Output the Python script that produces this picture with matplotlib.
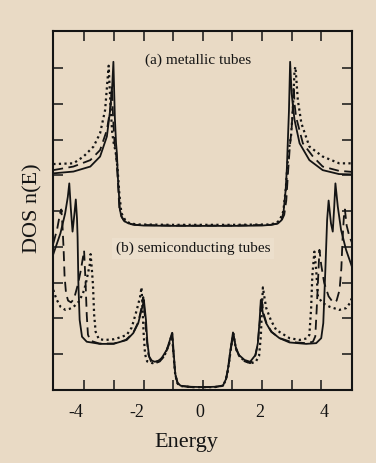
import matplotlib
matplotlib.use("Agg")
import matplotlib.pyplot as plt
from matplotlib.transforms import ScaledTranslation

plt.rcParams['font.family'] = ['Liberation Serif', 'DejaVu Serif']
plt.rcParams['axes.unicode_minus'] = False

# ---------------- data ----------------
# (a) metallic tubes
met_solid_E = [-5.05, -4.37, -3.8, -3.47, -3.24, -3.13, -3.06, -3.02, -2.97, -2.93, -2.9, -2.87,
               -2.8, -2.74, -2.68, -2.6, -2.51, -2.3, -2.0, -1.0, 0.0, 1.0, 2.0, 2.3, 2.54,
               2.66, 2.73, 2.8, 2.84, 2.87, 2.91, 2.95, 3.0, 3.05, 3.1, 3.27, 3.6, 4.05, 4.6, 5.05]
met_solid_dos = [6.06, 6.11, 6.25, 6.53, 7.09, 7.83, 8.5, 9.18, 7.6, 6.9, 6.6, 5.97,
                 5.03, 4.85, 4.76, 4.7, 4.66, 4.62, 4.6, 4.59, 4.59, 4.59, 4.6, 4.62, 4.66,
                 4.75, 5.0, 5.6, 6.2, 6.9, 7.8, 9.18, 8.3, 7.9, 7.55, 6.9, 6.43, 6.15, 6.04, 6.03]

met_dash_E = [-5.05, -4.37, -3.8, -3.47, -3.24, -3.13, -3.09, -3.07, -3.03, -2.98, -2.93, -2.88,
              -2.82, -2.75, -2.65, -2.5, -2.3, -1.0, 0.0, 1.0, 2.3, 2.5, 2.65, 2.75, 2.82, 2.88,
              2.94, 3.0, 3.04, 3.07, 3.1, 3.15, 3.38, 3.72, 4.05, 4.6, 5.05]
met_dash_dos = [6.15, 6.25, 6.43, 6.71, 7.27, 7.83, 8.2, 8.5, 7.6, 6.9, 6.6, 6.0,
                5.1, 4.85, 4.72, 4.65, 4.62, 4.6, 4.6, 4.6, 4.62, 4.65, 4.72, 4.9, 5.3, 6.1,
                6.8, 7.3, 7.9, 8.5, 8.0, 7.64, 6.9, 6.53, 6.25, 6.13, 6.1]

met_dot_E = [-5.05, -4.37, -4.03, -3.69, -3.47, -3.3, -3.21, -3.18, -3.12, -3.06, -3.0, -2.95,
             -2.88, -2.82, -2.75, -2.62, -2.46, -2.2, -1.0, 0.0, 1.0, 2.2, 2.46, 2.6, 2.72, 2.8,
             2.86, 2.92, 2.98, 3.04, 3.1, 3.13, 3.21, 3.33, 3.6, 4.05, 4.61, 5.05]
met_dot_dos = [6.32, 6.34, 6.53, 6.81, 7.18, 7.83, 8.76, 9.07, 8.0, 7.2, 6.85, 6.7,
               6.2, 5.5, 4.95, 4.75, 4.66, 4.63, 4.62, 4.62, 4.62, 4.63, 4.66, 4.75, 5.0, 5.6,
               6.3, 6.8, 7.1, 7.8, 8.95, 9.04, 8.11, 7.46, 6.81, 6.53, 6.34, 6.34]

# (b) semiconducting tubes
semi_solid_E = [-5.05, -4.81, -4.65, -4.56, -4.51, -4.46, -4.4, -4.34, -4.29, -4.25, -4.23, -4.2,
                -4.16, -4.08, -3.92, -3.47, -3.02, -2.57, -2.35, -2.18, -2.07, -2.02, -1.99,
                -1.95, -1.92, -1.87, -1.81, -1.72, -1.62, -1.5, -1.39, -1.22, -1.11, -1.03,
                -0.98, -0.93, -0.85, -0.75, -0.4, 0.0, 0.4, 0.68, 0.78, 0.85, 0.93, 1.02,
                1.11, 1.22, 1.41, 1.6, 1.78, 1.86, 1.92, 1.96, 2.03, 2.14, 2.31, 2.59, 2.93,
                3.49, 3.83, 4.0, 4.07, 4.14, 4.2, 4.25, 4.33, 4.39, 4.44, 4.48, 4.56, 4.67,
                4.84, 5.05]
semi_solid_dos = [3.8, 4.38, 4.94, 5.4, 5.78, 5.1, 4.43, 4.9, 5.33, 4.8, 4.29, 2.89,
                  1.96, 1.49, 1.35, 1.29, 1.29, 1.4, 1.59, 1.87, 2.24, 2.4, 2.52,
                  2.2, 1.96, 1.31, 0.93, 0.82, 0.79, 0.82, 0.89, 1.12, 1.4, 1.6,
                  1.0, 0.45, 0.2, 0.12, 0.09, 0.08, 0.09, 0.12, 0.3, 0.6, 1.1, 1.61,
                  1.21, 0.98, 0.84, 0.79, 0.98, 1.31, 1.96, 2.52, 2.15, 1.87, 1.63, 1.45, 1.33,
                  1.29, 1.31, 1.45, 1.87, 3.36, 4.76, 5.3, 4.66, 4.43, 5.13, 5.78, 5.13, 4.48,
                  3.92, 3.42]

semi_dash_E = [-5.05, -4.92, -4.82, -4.78, -4.74, -4.7, -4.67, -4.62, -4.55, -4.45, -4.35,
               -4.22, -4.12, -4.05, -4.01, -3.96, -3.92, -3.88, -3.8, -3.5, -3.0, -2.6,
               -2.35, -2.18, -2.07, -2.01, -1.96, -1.9, -1.84, -1.75, -1.6, -1.45, -1.3,
               -1.15, -1.04, -0.99, -0.93, -0.85, -0.75, -0.4, 0.0, 0.4, 0.68, 0.78, 0.86,
               0.94, 1.03, 1.12, 1.25, 1.42, 1.6, 1.76, 1.85, 1.92, 1.98, 2.05, 2.16, 2.33,
               2.6, 3.0, 3.5, 3.72, 3.8, 3.85, 3.9, 3.94, 4.0, 4.1, 4.25, 4.4, 4.52, 4.62,
               4.68, 4.72, 4.77, 4.8, 4.86, 4.95, 5.05]
semi_dash_dos = [4.1, 4.5, 4.95, 5.05, 4.6, 3.9, 3.2, 2.7, 2.5, 2.45, 2.55,
                 2.95, 3.35, 3.7, 3.9, 3.0, 2.1, 1.55, 1.38, 1.3, 1.3, 1.4,
                 1.6, 1.9, 2.3, 2.6, 2.1, 1.5, 1.0, 0.8, 0.75, 0.8, 0.95,
                 1.25, 1.58, 1.0, 0.42, 0.18, 0.11, 0.08, 0.08, 0.08, 0.12, 0.28, 0.6,
                 1.1, 1.58, 1.15, 0.92, 0.8, 0.75, 0.92, 1.25, 1.85, 2.6, 2.15, 1.85, 1.62,
                 1.45, 1.34, 1.31, 1.35, 1.5, 2.3, 3.2, 3.92, 3.5, 3.0, 2.62, 2.45, 2.5, 2.8,
                 3.4, 4.2, 4.9, 5.05, 4.6, 4.3, 4.1]

semi_dot_E = [-5.05, -4.95, -4.8, -4.64, -4.5, -4.36, -4.19, -4.05, -3.96, -3.87, -3.82,
              -3.79, -3.75, -3.71, -3.67, -3.62, -3.51, -3.3, -3.0, -2.8, -2.57, -2.4,
              -2.23, -2.12, -2.07, -2.04, -2.0, -1.95, -1.88, -1.7, -1.5, -1.3, -1.15,
              -1.04, -0.99, -0.93, -0.85, -0.75, -0.4, 0.0, 0.4, 0.68, 0.78, 0.86, 0.94,
              1.03, 1.12, 1.25, 1.45, 1.62, 1.78, 1.9, 1.96, 2.0, 2.03, 2.08, 2.14, 2.3,
              2.48, 2.93, 3.27, 3.5, 3.6, 3.66, 3.7, 3.77, 3.83, 3.89, 4.05, 4.28, 4.61,
              4.84, 4.97, 5.05]
semi_dot_dos = [2.8, 2.55, 2.32, 2.24, 2.27, 2.33, 2.47, 2.7, 2.94, 3.3, 3.5,
                3.8, 3.4, 2.94, 2.1, 1.63, 1.42, 1.4, 1.42, 1.47, 1.54, 1.75,
                2.24, 2.6, 2.87, 2.4, 1.6, 1.0, 0.8, 0.75, 0.8, 0.95, 1.25,
                1.58, 1.0, 0.42, 0.18, 0.11, 0.08, 0.08, 0.08, 0.12, 0.28, 0.6, 1.1,
                1.58, 1.15, 0.92, 0.8, 0.75, 0.78, 0.95, 1.5, 2.3, 2.87, 2.6, 2.3, 1.95,
                1.68, 1.45, 1.4, 1.44, 1.54, 2.3, 3.2, 3.87, 3.36, 2.61, 2.43, 2.33, 2.24,
                2.29, 2.43, 2.6]

tick_values = [-4, -2, 0, 2, 4]
tick_labels = ['-4', '-2', '0', '2', '4']

# ---------------- style / layout ----------------
bg = '#E9DAC5'
ink = '#141414'
dash_style = (0, (5.5, 3.0))
dot_style = (0, (1.0, 1.5))
label_shift_px = [-9, -7, -3, -2, 3]

fig = plt.figure(figsize=(3.76, 4.63), dpi=100, facecolor=bg)
ax = fig.add_axes([53.3 / 376, 1 - 390 / 463, (351.7 - 53.3) / 376, (390 - 30.7) / 463])
ax.set_facecolor(bg)

lw = 1.3
ax.plot(semi_dot_E, semi_dot_dos, color=ink, lw=1.6, linestyle=dot_style)
ax.plot(semi_dash_E, semi_dash_dos, color=ink, lw=lw, linestyle=dash_style)
ax.plot(semi_solid_E, semi_solid_dos, color=ink, lw=lw)
ax.plot(met_dot_E, met_dot_dos, color=ink, lw=1.6, linestyle=dot_style)
ax.plot(met_dash_E, met_dash_dos, color=ink, lw=lw, linestyle=dash_style)
ax.plot(met_solid_E, met_solid_dos, color=ink, lw=lw)

ax.set_xlim(-5.05, 5.03)
ax.set_ylim(0, 10.05)

ax.set_xticks(range(-5, 6), minor=False)
ax.set_xticks([])
ax.set_xticks(list(range(-4, 5)))
ax.set_xticklabels([tick_labels[tick_values.index(v)] if v in tick_values else '' for v in range(-4, 5)])
ax.set_yticks(list(range(1, 10)))
ax.set_yticklabels([])
ax.tick_params(axis='both', direction='in', length=7, width=1.1, color=ink,
               top=True, right=True, labelsize=13, labelcolor=ink, pad=10)
for sp in ax.spines.values():
    sp.set_linewidth(1.5)
    sp.set_color(ink)

# shift tick labels horizontally
shown = [lab for lab in ax.get_xticklabels() if lab.get_text()]
for lab, dx in zip(shown, label_shift_px):
    lab.set_transform(lab.get_transform() + ScaledTranslation(dx / 100, 0, fig.dpi_scale_trans))

fig.text(186.7 / 376, 1 - 442 / 463, 'Energy', ha='center', va='center', fontsize=16, color=ink)
fig.text(33 / 376, 1 - 208 / 463, 'DOS n(E)', ha='center', va='center', rotation=90,
         fontsize=16, color=ink)

ax.text(198.3 / 376, 1 - 60 / 463, '(a) metallic tubes', transform=fig.transFigure,
        ha='center', va='center', fontsize=11, color=ink)
ax.text(193.3 / 376, 1 - 248.3 / 463, '(b) semiconducting tubes', transform=fig.transFigure,
        ha='center', va='center', fontsize=11, color=ink,
        bbox=dict(boxstyle='square,pad=0.25', facecolor='#ECDFCC', edgecolor='none'))

fig.savefig('out.png', dpi=100, facecolor=bg)
